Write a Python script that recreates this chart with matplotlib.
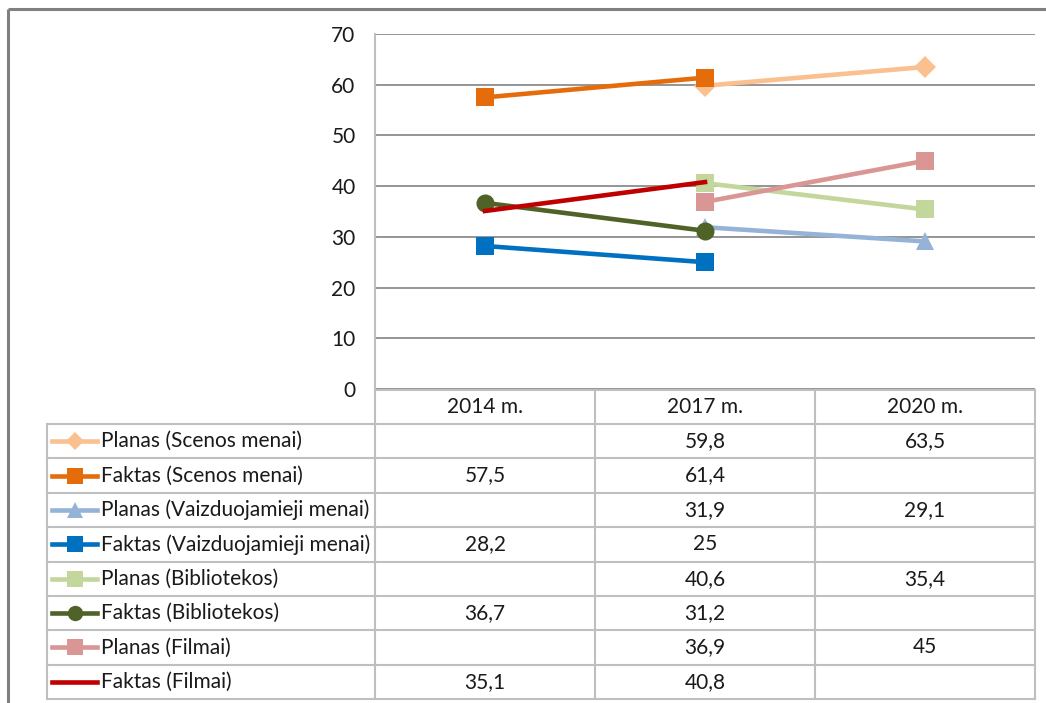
import numpy as np
import matplotlib
matplotlib.use("Agg")
import matplotlib.pyplot as plt
from matplotlib.lines import Line2D

plt.rcParams['font.family'] = ['Lato', 'DejaVu Sans']

categories = ["2014 m.", "2017 m.", "2020 m."]
series_names = [
    "Planas (Scenos menai)",
    "Faktas (Scenos menai)",
    "Planas (Vaizduojamieji menai)",
    "Faktas (Vaizduojamieji menai)",
    "Planas (Bibliotekos)",
    "Faktas (Bibliotekos)",
    "Planas (Filmai)",
    "Faktas (Filmai)",
]
planas_scenos = [None, 59.8, 63.5]
faktas_scenos = [57.5, 61.4, None]
planas_vaizd = [None, 31.9, 29.1]
faktas_vaizd = [28.2, 25, None]
planas_bibl = [None, 40.6, 35.4]
faktas_bibl = [36.7, 31.2, None]
planas_filmai = [None, 36.9, 45]
faktas_filmai = [35.1, 40.8, None]
series_values = [planas_scenos, faktas_scenos, planas_vaizd, faktas_vaizd,
                 planas_bibl, faktas_bibl, planas_filmai, faktas_filmai]

colors = ["#FAC090", "#E46C0A", "#95B3D7", "#0070C0",
          "#C3D69B", "#4F6228", "#D99694", "#C00000"]
markers = ["D", "s", "^", "s", "s", "o", "s", None]
msizes = [11, 13, 13, 13, 13, 13, 13, 0]

W, H = 1046, 703
fig = plt.figure(figsize=(W / 100, H / 100), dpi=100)

def fx(px):
    return px / W

def fy(py):
    return 1 - py / H

# main plot axes
x0, x1, ytop, ybot = 375, 1035, 34, 389
ax = fig.add_axes([fx(x0), fy(ybot), fx(x1) - fx(x0), fy(ytop) - fy(ybot)])
ax.set_xlim(-0.5, 2.5)
ax.set_ylim(0, 70)
ax.set_yticks(range(0, 71, 10))
ax.tick_params(axis='y', length=0, labelsize=15, pad=14, labelcolor="#1a1a1a")
ax.set_xticks([])
for s in ["top", "right", "bottom"]:
    ax.spines[s].set_visible(False)
ax.spines["left"].set_color("#BFBFBF")
ax.spines["left"].set_linewidth(1.5)
ax.grid(axis='y', color="#8C8C8C", linewidth=1.3)
ax.set_axisbelow(True)

xs = np.arange(len(categories))
for i, vals in enumerate(series_values):
    y = np.array([np.nan if v is None else v for v in vals], dtype=float)
    ax.plot(xs, y, color=colors[i], linewidth=3.3,
            marker=markers[i] if markers[i] else None,
            markersize=msizes[i], markeredgewidth=0, zorder=3 + i)

# overlay for table and border
ov = fig.add_axes([0, 0, 1, 1], zorder=-1)
ov.set_xlim(0, W)
ov.set_ylim(H, 0)
ov.axis('off')

# outer border (top + left)
ov.plot([8, W], [9, 9], color="#808080", lw=2.2, solid_capstyle='butt')
ov.plot([8, 8], [9, H], color="#808080", lw=2.2, solid_capstyle='butt')

gc = "#BFBFBF"
glw = 1.5
tl, colx, tr = 47, [375, 595, 815, 1035], 1035
hdr_top, hdr_bot = 390, 424
row_h = (699 - 424) / 8
ov.plot([375, tr], [hdr_top, hdr_top], color=gc, lw=glw)
for r in range(9):
    yy = hdr_bot + r * row_h
    ov.plot([tl, tr], [yy, yy], color=gc, lw=glw)
ov.plot([tl, tl], [hdr_bot, 699], color=gc, lw=glw)
for cx in colx:
    ov.plot([cx, cx], [hdr_top, 699], color=gc, lw=glw)

fs = 15
tc = "#1a1a1a"
for j, cat in enumerate(categories):
    cxm = (colx[j] + colx[j + 1]) / 2
    ov.text(cxm, (hdr_top + hdr_bot) / 2, cat, ha='center', va='center',
            fontsize=fs, color=tc)

def fmt(v):
    return ("{:g}".format(v)).replace(".", ",")

for r, name in enumerate(series_names):
    ym = hdr_bot + (r + 0.5) * row_h
    ov.add_line(Line2D([52, 97], [ym, ym], color=colors[r], lw=3.3))
    if markers[r]:
        ov.add_line(Line2D([74.5], [ym], color=colors[r], marker=markers[r],
                           markersize=msizes[r] * 0.85, markeredgewidth=0))
    ov.text(101, ym, name, ha='left', va='center', fontsize=fs, color=tc)
    for j, v in enumerate(series_values[r]):
        if v is not None:
            cxm = (colx[j] + colx[j + 1]) / 2
            ov.text(cxm, ym, fmt(v), ha='center', va='center', fontsize=fs, color=tc)

fig.savefig("out.png", dpi=100)
